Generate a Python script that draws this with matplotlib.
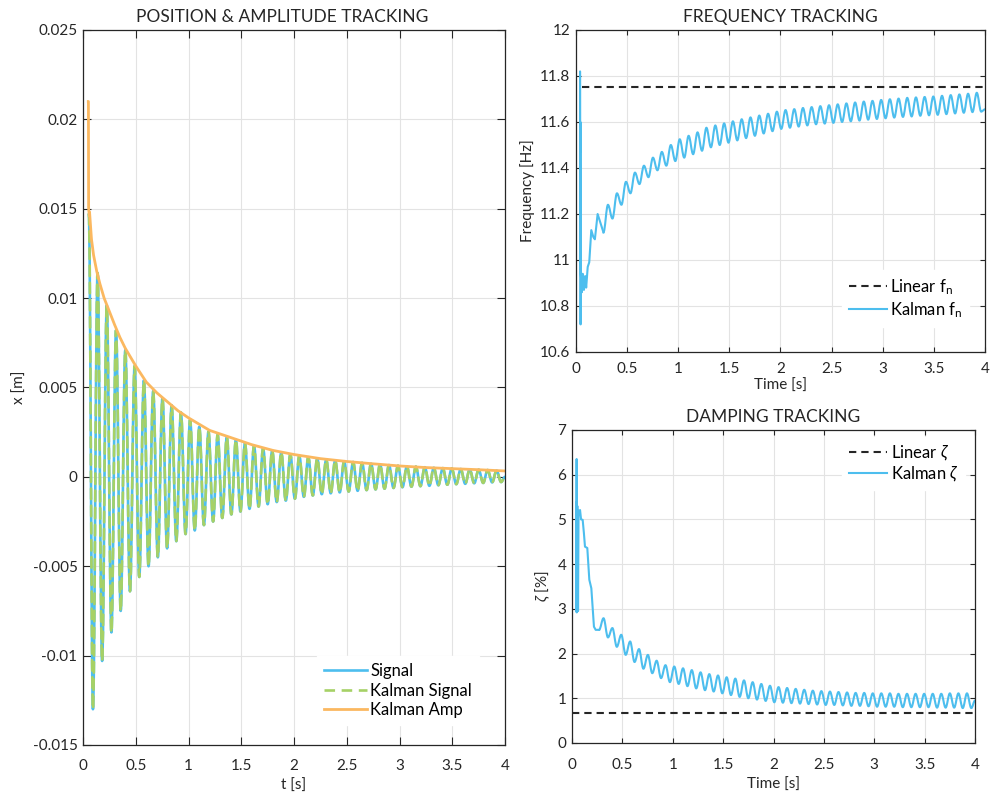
import numpy as np
import matplotlib
matplotlib.use("Agg")
from matplotlib import pyplot as plt
from matplotlib.path import Path
from matplotlib.patches import PathPatch
from matplotlib.ticker import FuncFormatter, MultipleLocator

# ---- data (extrema of each oscillation cycle) ----
t_peak = [0.055, 0.138, 0.225, 0.313, 0.401, 0.489, 0.577, 0.665, 0.753, 0.840,
          0.928, 1.015, 1.102, 1.189, 1.276, 1.363, 1.449, 1.535, 1.621, 1.707,
          1.793, 1.879, 1.965, 2.050, 2.135, 2.220, 2.305, 2.390, 2.475, 2.560,
          2.645, 2.730, 2.815, 2.900, 2.985, 3.070, 3.155, 3.240, 3.325, 3.410,
          3.495, 3.580, 3.665, 3.750, 3.835, 3.920, 4.000]
t_trough = [0.094, 0.181, 0.269, 0.357, 0.445, 0.533, 0.621, 0.709, 0.797, 0.884,
            0.972, 1.059, 1.146, 1.233, 1.320, 1.406, 1.492, 1.578, 1.664, 1.750,
            1.836, 1.922, 2.008, 2.093, 2.178, 2.263, 2.348, 2.433, 2.518, 2.603,
            2.688, 2.773, 2.858, 2.943, 3.028, 3.113, 3.198, 3.283, 3.368, 3.453,
            3.538, 3.623, 3.708, 3.793, 3.878, 3.963]

x_peak = [0.0147, 0.0114, 0.0096, 0.0082, 0.0071, 0.0062, 0.0054, 0.0048, 0.0044, 0.0040,
          0.0036, 0.0032, 0.0028, 0.00253, 0.00235, 0.00222, 0.00207, 0.00188, 0.00173, 0.0016,
          0.00147, 0.00136, 0.00126, 0.00118, 0.00110, 0.00103, 0.00097, 0.00092, 0.00087, 0.00083,
          0.00078, 0.00074, 0.00070, 0.00066, 0.00062, 0.00059, 0.00057, 0.00054, 0.00051, 0.00049,
          0.00047, 0.00044, 0.00042, 0.00040, 0.00038, 0.00035, 0.0000]
x_trough = [-0.0130, -0.0103, -0.0087, -0.0075, -0.0064, -0.0056, -0.0050, -0.0045, -0.0040, -0.0036,
            -0.0032, -0.0030, -0.0027, -0.0025, -0.0023, -0.0021, -0.00194, -0.00179, -0.00166, -0.00153,
            -0.00141, -0.00133, -0.00122, -0.00112, -0.00104, -0.00097, -0.00092, -0.00087, -0.00082, -0.00078,
            -0.00074, -0.00070, -0.00066, -0.00062, -0.00058, -0.00055, -0.00052, -0.00050, -0.00047, -0.00044,
            -0.00041, -0.00039, -0.00036, -0.00034, -0.00031, -0.00029]

amp_t = [0.050, 0.051, 0.053, 0.060, 0.062, 0.080, 0.100, 0.130, 0.160, 0.200, 0.240, 0.300,
         0.350, 0.400, 0.500, 0.600, 0.700, 0.800, 0.900, 1.000, 1.200, 1.400, 1.600,
         1.800, 2.000, 2.250, 2.500, 2.750, 3.000, 3.250, 3.500, 3.750, 4.000]
amp_v = [0.0210, 0.0210, 0.0150, 0.0146, 0.0148, 0.0133, 0.0124, 0.0115, 0.0108, 0.0100, 0.0094, 0.0085,
         0.0078, 0.0072, 0.0062, 0.0053, 0.0047, 0.0042, 0.0037, 0.0033, 0.0026, 0.0022, 0.0018,
         0.00148, 0.00125, 0.00102, 0.00086, 0.00073, 0.00061, 0.00052, 0.00046, 0.00040, 0.00033]

# frequency: start-up transient, then cycle extrema on t_trough[2:] / t_peak[3:]
f_head_t = [0.040, 0.040, 0.042, 0.043, 0.045, 0.047, 0.050, 0.058, 0.066, 0.078, 0.090,
            0.100, 0.115, 0.130, 0.150, 0.170, 0.185, 0.212]
f_head_v = [11.47, 11.82, 10.95, 11.60, 10.72, 10.95, 10.92, 10.86, 10.94, 10.87, 10.93,
            10.88, 10.97, 10.99, 11.13, 11.10, 11.09, 11.20]
f_trough = [11.12, 11.18, 11.24, 11.29, 11.33, 11.36, 11.39, 11.41, 11.43, 11.445,
            11.46, 11.475, 11.49, 11.50, 11.51, 11.52, 11.53, 11.54, 11.55, 11.56,
            11.57, 11.575, 11.58, 11.585, 11.59, 11.593, 11.596, 11.60, 11.603, 11.606,
            11.61, 11.613, 11.616, 11.619, 11.622, 11.624, 11.627, 11.629, 11.631, 11.634,
            11.637, 11.64, 11.643, 11.645]
f_peak = [11.24, 11.29, 11.34, 11.38, 11.41, 11.445, 11.47, 11.50, 11.525, 11.54,
          11.555, 11.575, 11.585, 11.594, 11.603, 11.612, 11.62, 11.628, 11.636, 11.645,
          11.652, 11.656, 11.661, 11.665, 11.669, 11.673, 11.677, 11.681, 11.685, 11.689,
          11.692, 11.696, 11.699, 11.702, 11.705, 11.707, 11.709, 11.711, 11.714, 11.717,
          11.72, 11.723, 11.727, 11.655]
f_linear = 11.75

z_head_t = [0.045, 0.046, 0.047, 0.049, 0.051, 0.053, 0.055, 0.057, 0.060, 0.065, 0.072,
            0.080, 0.090, 0.106, 0.118, 0.129, 0.152, 0.172, 0.192, 0.218, 0.235]
z_head_v = [2.95, 6.35, 2.92, 5.40, 2.95, 5.30, 3.00, 5.20, 2.95, 5.10, 5.15,
            5.21, 5.00, 4.99, 4.70, 4.39, 4.36, 3.65, 3.46, 2.60, 2.53]
z_trough = [2.53, 2.36, 2.15, 1.97, 1.81, 1.66, 1.56, 1.45, 1.36, 1.32,
            1.27, 1.22, 1.18, 1.15, 1.11, 1.07, 1.03, 1.00, 0.97, 0.94,
            0.91, 0.90, 0.89, 0.88, 0.87, 0.86, 0.85, 0.85, 0.84, 0.83,
            0.83, 0.82, 0.81, 0.81, 0.81, 0.80, 0.80, 0.80, 0.80, 0.79,
            0.79, 0.79, 0.78, 0.78]
z_peak = [2.79, 2.57, 2.42, 2.27, 2.10, 1.97, 1.84, 1.74, 1.71, 1.67,
          1.63, 1.58, 1.54, 1.51, 1.47, 1.44, 1.40, 1.36, 1.32, 1.28,
          1.25, 1.23, 1.21, 1.19, 1.17, 1.16, 1.15, 1.14, 1.13, 1.12,
          1.12, 1.11, 1.11, 1.11, 1.10, 1.10, 1.10, 1.10, 1.10, 1.10,
          1.11, 1.11, 1.11, 0.95]
z_linear = 0.67

BLUE = '#4DBEEE'
GREEN = '#A6D166'
ORANGE = '#FBB860'
DARK = '#262626'


def merge(ta, va, tb, vb):
    t = np.concatenate([ta, tb])
    v = np.concatenate([va, vb])
    o = np.argsort(t, kind='stable')
    return t[o], v[o]


def wave(ax, t, v, **kw):
    # smooth curve through the extrema: bezier segments, flat at each extremum
    verts = [(t[0], v[0])]
    codes = [Path.MOVETO]
    for i in range(1, len(t)):
        d = (t[i] - t[i - 1]) * 0.36
        verts += [(t[i - 1] + d, v[i - 1]), (t[i] - d, v[i]), (t[i], v[i])]
        codes += [Path.CURVE4] * 3
    p = PathPatch(Path(verts, codes), fill=False, capstyle='round', joinstyle='round', **kw)
    ax.add_patch(p)
    return p


plt.rcParams['font.family'] = ['Lato', 'DejaVu Sans']
plt.rcParams['mathtext.fontset'] = 'custom'
plt.rcParams['mathtext.rm'] = 'Lato'
plt.rcParams['mathtext.it'] = 'Lato:italic'
plt.rcParams['axes.unicode_minus'] = False

fmt = FuncFormatter(lambda v, _: '{:g}'.format(round(v, 6)))


def style(ax, ticklen, xpad):
    ax.grid(True, color='#E3E3E3', lw=0.8)
    ax.set_axisbelow(True)
    for s in ax.spines.values():
        s.set_color(DARK)
        s.set_linewidth(0.9)
    ax.tick_params(direction='in', top=True, right=True, length=ticklen, width=0.8,
                   colors=DARK, labelsize=11, pad=4)
    ax.tick_params(axis='x', pad=xpad)
    ax.xaxis.set_major_formatter(fmt)
    ax.yaxis.set_major_formatter(fmt)
    ax.xaxis.set_major_locator(MultipleLocator(0.5))
    ax.set_xlim(0, 4)


fig = plt.figure(figsize=(9.92, 8.02), dpi=100)
leg_kw = dict(fontsize=12, frameon=True, fancybox=False, edgecolor='white',
              framealpha=1, handletextpad=0.2, borderaxespad=0)

# ---- position & amplitude ----
ax1 = fig.add_axes([0.0837, 0.0711, 0.4254, 0.8915])
ts, xs = merge(t_peak, x_peak, t_trough, x_trough)
wave(ax1, ts, xs, edgecolor=BLUE, lw=1.9)
wave(ax1, ts, xs, edgecolor=GREEN, lw=1.9, linestyle=(0, (4, 2.5)))
ax1.plot(amp_t, amp_v, color=ORANGE, lw=2.0)
ax1.plot([], [], color=BLUE, lw=1.9, label='Signal')
ax1.plot([], [], color=GREEN, lw=1.9, dashes=(4, 2.5), label='Kalman Signal')
ax1.plot([], [], color=ORANGE, lw=2.0, label='Kalman Amp')
style(ax1, 6, 10)
ax1.set_ylim(-0.015, 0.025)
ax1.yaxis.set_major_locator(MultipleLocator(0.005))
ax1.set_title('POSITION & AMPLITUDE TRACKING', fontsize=12.5, pad=6, color=DARK, x=0.472)
ax1.set_xlabel('t [s]', fontsize=11, color=DARK, labelpad=4)
ax1.set_ylabel('x [m]', fontsize=11, color=DARK)
ax1.legend(loc='lower right', bbox_to_anchor=(0.938, 0.028), labelspacing=0.22,
           handlelength=2.6, **leg_kw)

# ---- frequency ----
ax2 = fig.add_axes([0.5806, 0.5611, 0.4123, 0.4015])
tf, vf = merge(t_peak[3:], f_peak, t_trough[2:], f_trough)
ax2.plot([0.055, 4.0], [f_linear, f_linear], color=DARK, lw=1.5, dashes=(3.5, 2.4),
         label='Linear f$_\\mathregular{n}$')
ax2.plot(f_head_t + [tf[0]], f_head_v + [vf[0]], color=BLUE, lw=1.5,
         label='Kalman f$_\\mathregular{n}$')
wave(ax2, tf, vf, edgecolor=BLUE, lw=1.5)
style(ax2, 3.5, 7)
ax2.set_ylim(10.6, 12)
ax2.yaxis.set_major_locator(MultipleLocator(0.2))
ax2.set_title('FREQUENCY TRACKING', fontsize=12.5, pad=6, color=DARK)
ax2.set_xlabel('Time [s]', fontsize=11, color=DARK, labelpad=2)
ax2.set_ylabel('Frequency [Hz]', fontsize=11, color=DARK)
ax2.legend(loc='lower right', bbox_to_anchor=(0.962, 0.079), labelspacing=0.2,
           handlelength=2.3, **leg_kw)

# ---- damping ----
ax3 = fig.add_axes([0.5766, 0.0736, 0.4063, 0.3903])
tz, vz = merge(t_peak[3:], z_peak, t_trough[2:], z_trough)
ax3.plot([0.0, 4.0], [z_linear, z_linear], color=DARK, lw=1.5, dashes=(3.5, 2.4),
         label='Linear $\\zeta$')
ax3.plot(z_head_t + [tz[0]], z_head_v + [vz[0]], color=BLUE, lw=1.5,
         label='Kalman $\\zeta$')
wave(ax3, tz, vz, edgecolor=BLUE, lw=1.5)
style(ax3, 3.5, 11)
ax3.set_ylim(0, 7)
ax3.yaxis.set_major_locator(MultipleLocator(1))
ax3.set_title('DAMPING TRACKING', fontsize=12.5, pad=6, color=DARK)
ax3.set_xlabel('Time [s]', fontsize=11, color=DARK, labelpad=4)
ax3.set_ylabel('$\\zeta$ [%]', fontsize=11, color=DARK)
ax3.legend(loc='upper right', bbox_to_anchor=(0.975, 0.978), labelspacing=0.12,
           handlelength=2.3, **leg_kw)

fig.savefig('out.png', dpi=100, facecolor='white')
